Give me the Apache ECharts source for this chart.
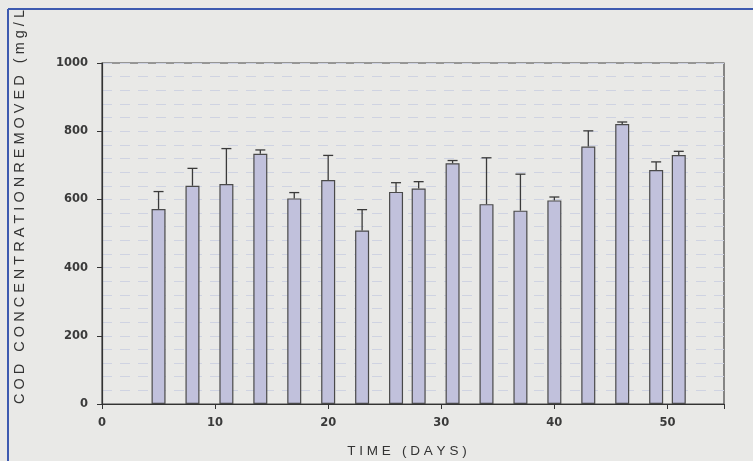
<!DOCTYPE html>
<html><head><meta charset="utf-8">
<script src="https://cdn.jsdelivr.net/npm/echarts@6/dist/echarts.min.js"></script>
<style>html,body{margin:0;padding:0;background:#e9e9e7;}#c{width:753px;height:461px;}</style>
</head><body><div id="c"></div>
<script>
var days = [5, 8, 11, 14, 17, 20, 23, 26, 28, 31, 34, 37, 40, 43, 46, 49, 51];
var codRemoved = [572, 640, 645, 734, 603, 657, 509, 622, 632, 706, 586, 567, 597, 755, 821, 686, 730];
var errorTop = [623, 691, 749, 745, 620, 729, 570, 649, 652, 714, 722, 674, 607, 801, 827, 710, 741];
var xTicks = [0, 10, 20, 30, 40, 50];
var yTicks = [0, 200, 400, 600, 800, 1000];

var chart = echarts.init(document.getElementById('c'));
var barData = days.map(function (d, i) { return [d, codRemoved[i]]; });
var errData = days.map(function (d, i) { return [d, codRemoved[i], errorTop[i]]; });

chart.setOption({
  backgroundColor: '#e9e9e7',
  animation: false,
  grid: { left: 102, right: 29, top: 63, bottom: 57, show: true, borderColor: '#444', borderWidth: 1.2, backgroundColor: 'transparent' },
  xAxis: {
    type: 'value', min: 0, max: 55, interval: 10,
    axisLine: { show: true, onZero: false, lineStyle: { color: '#333', width: 1.2 } },
    axisTick: { show: true, length: 5, lineStyle: { color: '#333' } },
    axisLabel: { color: '#3a3a3a', fontSize: 11.5, fontWeight: 'bold', fontFamily: 'DejaVu Sans', margin: 13,
      formatter: function (v) { return xTicks.indexOf(v) >= 0 ? String(v) : ''; } },
    splitLine: { show: false }
  },
  yAxis: {
    type: 'value', min: 0, max: 1000, interval: 200,
    axisLine: { show: true, lineStyle: { color: '#333', width: 1.2 } },
    axisTick: { show: true, length: 5, lineStyle: { color: '#333' } },
    axisLabel: { color: '#3a3a3a', fontSize: 11.5, fontWeight: 'bold', fontFamily: 'DejaVu Sans', margin: 14,
      formatter: function (v) { return yTicks.indexOf(v) >= 0 ? String(v) : ''; } },
    splitLine: { show: true, lineStyle: { color: '#cfd3e2', type: [10, 8], width: 1 } },
    minorTick: { show: false, splitNumber: 5 },
    minorSplitLine: { show: true, lineStyle: { color: '#cfd3e2', type: [10, 8], width: 1 } }
  },
  series: [
    {
      type: 'bar', data: barData, barWidth: 14,
      itemStyle: { color: '#c1c1dc', borderColor: '#4a4a4a', borderWidth: 1.2 }
    },
    {
      type: 'custom', data: errData, z: 5,
      renderItem: function (params, api) {
        var x = api.value(0);
        var b = api.coord([x, api.value(1)]);
        var t = api.coord([x, api.value(2)]);
        var hw = 5;
        var st = { stroke: '#3a3a3a', lineWidth: 1.3 };
        return { type: 'group', children: [
          { type: 'line', shape: { x1: b[0], y1: b[1], x2: t[0], y2: t[1] }, style: st },
          { type: 'line', shape: { x1: t[0] - hw, y1: t[1], x2: t[0] + hw, y2: t[1] }, style: st }
        ] };
      }
    }
  ],
  graphic: [
    { type: 'line', shape: { x1: 8, y1: 9, x2: 753, y2: 9 }, style: { stroke: '#3d5ab0', lineWidth: 2 } },
    { type: 'line', shape: { x1: 8, y1: 9, x2: 8, y2: 461 }, style: { stroke: '#3d5ab0', lineWidth: 2 } },
    { type: 'text', x: 407, y: 451, style: { text: 'T I M E   ( D A Y S )', fill: '#333', font: '13.5px "Liberation Sans"', textAlign: 'center', textVerticalAlign: 'middle' } },
    { type: 'text', x: 20, y: 404, rotation: Math.PI / 2, style: { text: 'C O D   C O N C E N T R A T I O N R E M O V E D   ( m g / L', fill: '#333', font: '14.5px "Liberation Sans"', textAlign: 'left', textVerticalAlign: 'middle' } }
  ]
});
</script></body></html>
